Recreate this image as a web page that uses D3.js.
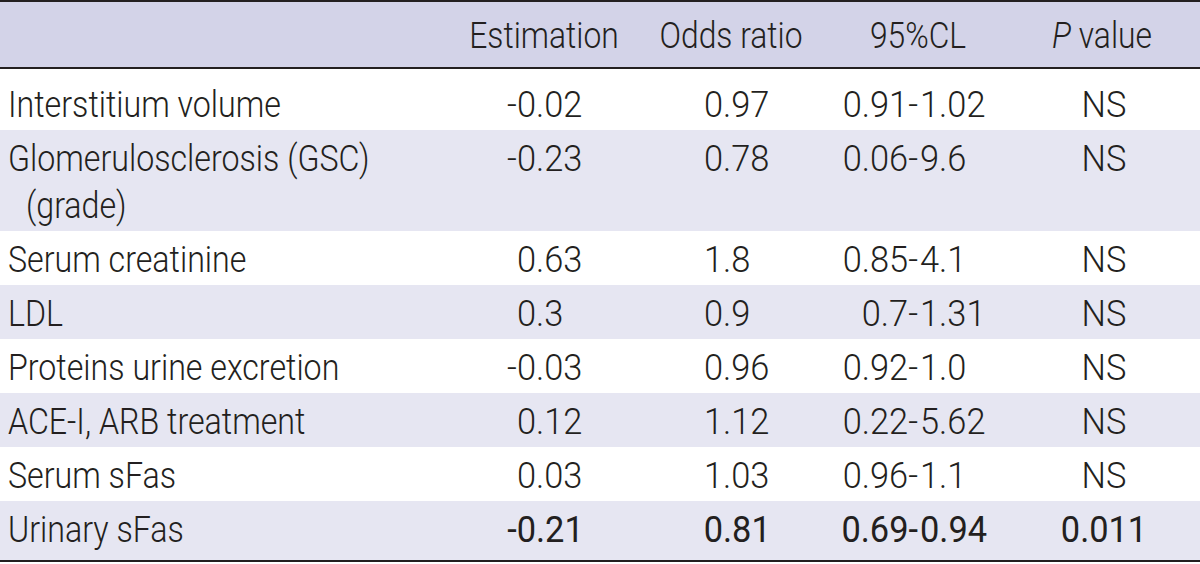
<!DOCTYPE html>
<html>
<head>
<meta charset="utf-8">
<script src="https://cdn.jsdelivr.net/npm/d3@7"></script>
<style>
  html, body { margin: 0; padding: 0; background: #ffffff; }
  svg { display: block; }
  text { font-family: Roboto, "Liberation Sans", Arial, sans-serif; fill: #231f20; }
</style>
</head>
<body>
<svg id="chart" width="1200" height="564"></svg>
<script>
// ---- data ----
const headers = ["", "Estimation", "Odds ratio", "95%CL", "P value"];
const rowLabels = [
  ["Interstitium volume"],
  ["Glomerulosclerosis (GSC)", "(grade)"],
  ["Serum creatinine"],
  ["LDL"],
  ["Proteins urine excretion"],
  ["ACE-I, ARB treatment"],
  ["Serum sFas"],
  ["Urinary sFas"]
];
const estimation = ["-0.02", "-0.23", "0.63", "0.3", "-0.03", "0.12", "0.03", "-0.21"];
const oddsRatio  = ["0.97", "0.78", "1.8", "0.9", "0.96", "1.12", "1.03", "0.81"];
const ci95       = ["0.91-1.02", "0.06-9.6", "0.85-4.1", "0.7-1.31", "0.92-1.0", "0.22-5.62", "0.96-1.1", "0.69-0.94"];
const pValue     = ["NS", "NS", "NS", "NS", "NS", "NS", "NS", "0.011"];

// ---- layout ----
const W = 1200, H = 564;
const fontSize = 37;
const sxLabel = 0.87, sxHead = 0.86, sxNum = 0.93;
const headerH = 68, lineH = 54, extraLineH = 47, firstPad = 8, lastPad = 5;
const baselineOff = 41;

const svg = d3.select("#chart");

const heights = rowLabels.map((l, i) =>
  lineH + (l.length - 1) * extraLineH + (i === 0 ? firstPad : 0) + (i === rowLabels.length - 1 ? lastPad : 0));
const tops = [];
let acc = headerH;
heights.forEach(h => { tops.push(acc); acc += h; });
const tableBottom = acc;

const colX = d3.scaleOrdinal()
  .domain(["label", "labelIndent", "est", "odds", "ciL", "ciR", "p"])
  .range([8, 26, 536, 723, 918, 920, 1104]);
const headerX = d3.scaleOrdinal()
  .domain(headers)
  .range([0, 544, 731, 918, 1102]);

svg.append("rect").attr("x", 0).attr("y", 0).attr("width", W).attr("height", headerH)
  .attr("fill", "#d3d3e8");

svg.selectAll("rect.row").data(rowLabels).join("rect")
  .attr("class", "row")
  .attr("x", 0).attr("width", W)
  .attr("y", (d, i) => tops[i])
  .attr("height", (d, i) => heights[i])
  .attr("fill", (d, i) => i % 2 === 0 ? "#ffffff" : "#e6e6f2");

const rules = [1, headerH, tableBottom + 1];
svg.selectAll("line.rule").data(rules).join("line")
  .attr("class", "rule")
  .attr("x1", 0).attr("x2", W)
  .attr("y1", d => d).attr("y2", d => d)
  .attr("stroke", "#231f20").attr("stroke-width", 2);

function txt(g, str, x, y, anchor, weight, sx) {
  return g.append("text")
    .attr("transform", `translate(${x},${y}) scale(${sx},1)`)
    .attr("text-anchor", anchor)
    .attr("font-size", fontSize)
    .attr("font-weight", weight || 300)
    .text(str);
}

const gh = svg.append("g");
headers.forEach(h => {
  if (!h) return;
  if (h === "P value") {
    const t = gh.append("text")
      .attr("transform", `translate(${headerX(h)},48) scale(${sxHead},1)`)
      .attr("text-anchor", "middle").attr("font-size", fontSize).attr("font-weight", 300);
    t.append("tspan").attr("font-style", "italic").text("P");
    t.append("tspan").text(" value");
  } else {
    txt(gh, h, headerX(h), 48, "middle", 300, sxHead);
  }
});

const gb = svg.append("g");
rowLabels.forEach((lines, i) => {
  const base = tops[i] + (i === 0 ? firstPad : 0) + baselineOff;
  const sig = pValue[i] !== "NS";
  const w = sig ? 400 : 300;
  lines.forEach((l, j) => {
    txt(gb, l, j === 0 ? colX("label") : colX("labelIndent"), base + j * extraLineH, "start", 300, sxLabel);
  });
  [[estimation[i], "est"], [oddsRatio[i], "odds"]].forEach(([v, c]) => {
    const k = v.indexOf(".");
    txt(gb, v.slice(0, k), colX(c), base, "end", w, sxNum);
    txt(gb, v.slice(k), colX(c), base, "start", w, sxNum);
  });
  const k = ci95[i].indexOf("-");
  txt(gb, ci95[i].slice(0, k + 1), colX("ciL"), base, "end", w, sxNum);
  txt(gb, ci95[i].slice(k + 1), colX("ciR"), base, "start", w, sxNum);
  txt(gb, pValue[i], colX("p"), base, "middle", w, sxNum);
});
</script>
</body>
</html>
